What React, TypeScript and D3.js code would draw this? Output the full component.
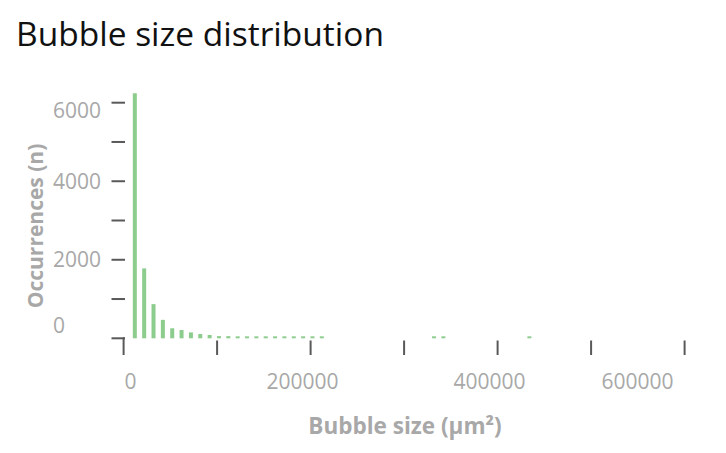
import React from "react";
import * as d3 from "d3";

// bin centres (µm²) and counts
const binCenters = [
  12000, 22000, 32000, 42000, 52000, 62000, 72000, 82000, 92000, 102000, 112000,
  122000, 132000, 142000, 152000, 162000, 172000, 182000, 192000, 202000, 212000,
  332000, 342000, 434000,
];
const counts = [
  6240, 1780, 870, 470, 255, 210, 150, 110, 85, 55, 55, 50, 50, 50, 50, 50, 50,
  50, 50, 50, 50, 50, 50, 50,
];

const yTicks = [0, 1000, 2000, 3000, 4000, 5000, 6000];
const yLabels = [0, 2000, 4000, 6000];
const xTicks = [0, 100000, 200000, 300000, 400000, 500000, 600000];
const xLabels = [0, 200000, 400000, 600000];

// label nudges (px) so the labels sit where the original put them
const yLabelShift = [-11, 2, 2, 10];
const xLabelShift = [7, -8, -8, -47];

const App: React.FC = () => {
  const width = 726;
  const height = 453;

  const x = d3.scaleLinear().domain([0, 600000]).range([123.6, 684.6]);
  const y = d3.scaleLinear().domain([0, 6000]).range([338.3, 102.7]);

  const barW = 4;
  const font = "'Open Sans', 'Noto Sans', sans-serif";
  const gray = "#a8a8a8";
  const tickColor = "#595959";

  return (
    <svg
      width={width}
      height={height}
      style={{ position: "absolute", left: 0, top: 0, background: "#fff" }}
      fontFamily={font}
    >
      {/* Title */}
      <text x={16} y={46} fontSize={33.5} fill="#111">
        Bubble size distribution
      </text>

      {/* Y ticks */}
      <g>
        {yTicks.map((t) => (
          <line
            key={t}
            x1={111.5}
            x2={125}
            y1={y(t)}
            y2={y(t)}
            stroke={tickColor}
            strokeWidth={2}
          />
        ))}
        {yLabels.map((t, i) => (
          <text
            key={t}
            x={53}
            y={y(t) + yLabelShift[i]}
            dominantBaseline="middle"
            fontSize={21}
            fill={gray}
          >
            {t}
          </text>
        ))}
      </g>

      {/* X ticks */}
      <g>
        {xTicks.map((t) => (
          <line
            key={t}
            x1={x(t)}
            x2={x(t)}
            y1={t === 0 ? y(0) - 1 : 340.5}
            y2={355}
            stroke={tickColor}
            strokeWidth={2}
          />
        ))}
        {xLabels.map((t, i) => (
          <text
            key={t}
            x={x(t) + xLabelShift[i]}
            y={389}
            textAnchor="middle"
            fontSize={21}
            fill={gray}
          >
            {t}
          </text>
        ))}
      </g>

      {/* Bars */}
      {binCenters.map((b, i) => (
        <rect
          key={i}
          x={x(b) - barW / 2}
          y={y(counts[i])}
          width={barW}
          height={y(0) - y(counts[i])}
          fill="#8ccc8c"
        />
      ))}

      {/* Axis titles */}
      <text
        transform="translate(43,226) rotate(-90)"
        textAnchor="middle"
        fontSize={21}
        fontWeight="bold"
        fill={gray}
      >
        Occurrences (n)
      </text>
      <text
        x={405}
        y={434}
        textAnchor="middle"
        fontSize={22.5}
        fontWeight="bold"
        fill={gray}
      >
        Bubble size (µm²)
      </text>
    </svg>
  );
};

export default App;
